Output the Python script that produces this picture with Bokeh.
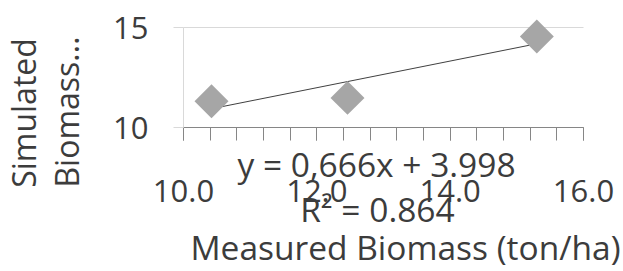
import numpy as np
from bokeh.plotting import figure
from bokeh.models import Range1d, FixedTicker, Label, PrintfTickFormatter
from bokeh.embed import file_html
from bokeh.resources import INLINE

# data
measured = [10.42, 12.46, 15.30]
simulated = [11.31, 11.48, 14.55]
slope = 0.666
intercept = 3.998
r2 = 0.864
x_major = [10.0, 12.0, 14.0, 16.0]
x_minor = [10.0, 10.4, 10.8, 11.2, 11.6, 12.0, 12.4, 12.8, 13.2, 13.6, 14.0,
           14.4, 14.8, 15.2, 15.6, 16.0]
y_major = [10, 15]

FONT = "Open Sans"
TXT = "#3c3c3c"
FS = "31px"
W, H = 621, 270

# the frame fills the whole canvas; the axes sit at fixed data positions
p = figure(width=W, height=H, x_range=Range1d(7.255, 16.57), y_range=Range1d(2.85, 16.35),
           output_backend="svg", toolbar_location=None,
           min_border_left=0, min_border_right=0, min_border_top=0, min_border_bottom=0)
p.outline_line_color = None
p.background_fill_color = "white"
p.border_fill_color = "white"

# x axis
xa = p.xaxis[0]
xa.fixed_location = 10
xa.bounds = (10, 16)
xa.ticker = FixedTicker(ticks=x_major, minor_ticks=x_minor)
xa.formatter = PrintfTickFormatter(format="%.1f")
xa.axis_line_color = "#868686"
xa.major_tick_line_color = "#868686"
xa.minor_tick_line_color = "#868686"
xa.major_tick_in = 0
xa.major_tick_out = 13
xa.minor_tick_in = 0
xa.minor_tick_out = 13
xa.major_label_text_font = FONT
xa.major_label_text_font_size = FS
xa.major_label_text_color = TXT
xa.major_label_standoff = 39

# y axis
ya = p.yaxis[0]
ya.fixed_location = 10
ya.bounds = (10, 15)
ya.ticker = FixedTicker(ticks=y_major, minor_ticks=[])
ya.axis_line_color = "#d9d9d9"
ya.major_tick_line_color = "#d9d9d9"
ya.major_tick_in = 0
ya.major_tick_out = 10
ya.major_label_text_font = FONT
ya.major_label_text_font_size = FS
ya.major_label_text_color = TXT
ya.major_label_standoff = 25

p.xgrid.grid_line_color = None
p.ygrid.ticker = FixedTicker(ticks=y_major)
p.ygrid.cross_bounds = (10, 16)
p.ygrid.grid_line_color = "#d9d9d9"

# trend line from the equation
tx = [min(measured), max(measured)]
ty = [slope * v + intercept for v in tx]
p.line(tx, ty, line_color="#404040", line_width=1)

# points
p.scatter(measured, simulated, marker="square", size=24, angle=np.pi / 4,
          fill_color="#a6a6a6", line_color=None)


def lab(text, x, y, size, angle=0.0):
    p.add_layout(Label(x=x, y=y, x_units="screen", y_units="screen", text=text,
                       angle=angle, text_align="center", text_baseline="alphabetic",
                       text_font=FONT, text_font_size=size, text_color=TXT))


lab("y = %s" % (("%.3f" % slope).replace(".", ",")) + "x + %.3f" % intercept, 376, 107, "33.5px")
lab("R² = %.3f" % r2, 377, 62, "33.5px")
lab("Measured Biomass (ton/ha)", 405, 24, "33.5px")
lab("Simulated", 23, 157.5, "32px", angle=np.pi / 2)
lab("Biomass...", 66, 158.5, "32px", angle=np.pi / 2)

open("out.html", "w").write(file_html(p, INLINE))
